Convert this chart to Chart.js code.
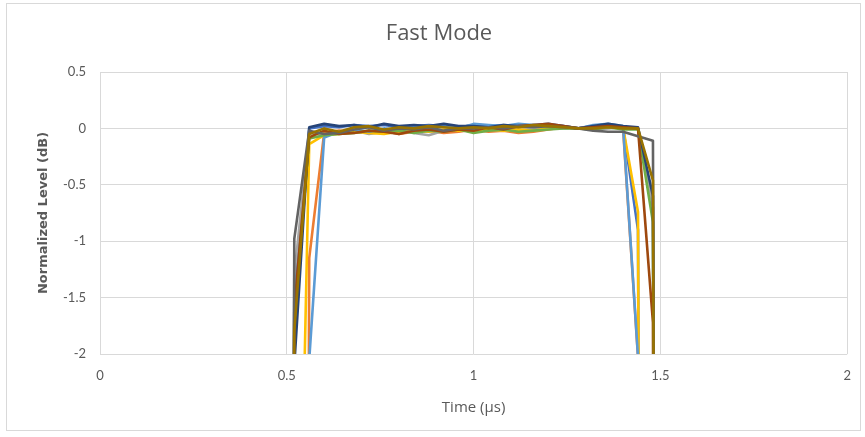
<!DOCTYPE html>
<html>
<head>
<meta charset="utf-8">
<script src="https://cdn.jsdelivr.net/npm/chart.js@4/dist/chart.umd.min.js"></script>
<style>
  html, body { margin: 0; padding: 0; background: #ffffff; }
  canvas { display: block; }
</style>
</head>
<body>
<canvas id="c" width="865" height="437"></canvas>
<script>
// ---- data ----
const timeUs = [0.48, 0.52, 0.56, 0.60, 0.64, 0.68, 0.72, 0.76, 0.80, 0.84, 0.88, 0.92, 0.96, 1.00,
                1.04, 1.08, 1.12, 1.16, 1.20, 1.24, 1.28, 1.32, 1.36, 1.40, 1.44, 1.48, 1.52];

const series1 = [-40, -1.5, 0.00, 0.02, 0.01, 0.03, 0.02, 0.03, 0.01, 0.02, 0.03, 0.02, 0.01, 0.03, 0.02, 0.03, 0.02, 0.03, 0.04, 0.02, 0.00, 0.02, 0.03, 0.01, -0.9, -40, -40];
const series2 = [-40, -40, -1.15, -0.04, -0.02, -0.03, -0.04, -0.02, -0.05, -0.03, -0.02, -0.04, -0.03, -0.01, -0.03, -0.02, -0.04, -0.03, -0.01, 0.01, 0.00, 0.01, 0.02, 0.00, -2.03, -40, -40];
const series3 = [-40, -1.3, -0.04, -0.06, -0.04, -0.02, -0.05, -0.03, -0.02, -0.04, -0.06, -0.02, -0.01, -0.03, -0.01, -0.02, 0.00, -0.01, 0.01, 0.00, 0.00, -0.01, 0.00, 0.01, 0.00, -0.7, -40];
const series4 = [-40, -6.4, -0.14, -0.06, -0.05, -0.03, -0.04, -0.05, -0.03, -0.02, -0.03, -0.01, -0.02, -0.02, -0.01, -0.02, -0.01, -0.02, 0.00, 0.01, 0.00, 0.01, 0.02, 0.01, -0.74, -40, -40];
const series5 = [-40, -40, -2.05, -0.08, -0.03, -0.01, -0.03, 0.00, -0.02, 0.01, -0.01, 0.02, 0.00, 0.04, 0.03, 0.02, 0.04, 0.03, 0.02, 0.01, 0.00, 0.03, 0.04, 0.02, -2.02, -40, -40];
const series6 = [-40, -1.7, -0.09, -0.06, -0.05, -0.04, -0.02, -0.03, -0.02, -0.04, -0.02, -0.03, -0.01, -0.04, -0.02, -0.01, -0.03, -0.02, -0.01, 0.00, 0.00, -0.01, 0.01, -0.01, -0.01, -0.83, -40];
const series7 = [-40, -2.1, 0.01, 0.04, 0.02, 0.03, 0.01, 0.04, 0.02, 0.03, 0.02, 0.04, 0.02, 0.02, 0.01, 0.03, 0.02, 0.02, 0.03, 0.02, 0.00, 0.02, 0.04, 0.02, 0.01, -0.6, -40];
const series8 = [-40, -1.6, -0.08, -0.02, -0.05, -0.04, -0.02, -0.03, -0.05, -0.02, -0.01, -0.03, -0.01, -0.02, 0.01, -0.01, 0.02, 0.03, 0.04, 0.02, 0.00, 0.01, 0.02, 0.01, 0.00, -1.72, -40];
const series9 = [-40, -0.98, -0.02, -0.05, -0.04, -0.01, 0.01, -0.02, 0.00, -0.01, 0.01, -0.02, 0.00, 0.00, 0.01, 0.00, 0.02, 0.01, 0.02, 0.01, 0.00, -0.02, -0.03, -0.03, -0.07, -0.11, -40];
const series10 = [-40, -1.8, -0.05, 0.00, -0.03, 0.01, 0.02, -0.01, 0.01, 0.00, 0.02, 0.01, 0.00, 0.01, 0.00, 0.02, 0.01, 0.03, 0.02, 0.01, 0.00, 0.00, 0.01, 0.00, 0.00, -0.46, -40];

const xTickValues = [0, 0.5, 1, 1.5, 2];
const xTickLabels = ['0', '0.5', '1', '1.5', '2'];
const yTickValues = [0.5, 0, -0.5, -1, -1.5, -2];
const yTickLabels = ['0.5', '0', '-0.5', '-1', '-1.5', '-2'];

const allSeries = [series1, series2, series3, series4, series5, series6, series7, series8, series9, series10];
const colors = ['#4472C4', '#ED7D31', '#A5A5A5', '#FFC000', '#5B9BD5', '#70AD47', '#264478', '#9E480E', '#636363', '#997300'];

const datasets = allSeries.map((vals, i) => ({
  label: 'Series' + (i + 1),
  data: vals.map((v, j) => ({ x: timeUs[j], y: v })),
  borderColor: colors[i],
  backgroundColor: colors[i],
  borderWidth: 2.6,
  pointRadius: 0,
  tension: 0,
  fill: false,
  borderJoinStyle: 'round',
  borderCapStyle: 'round',
  order: allSeries.length - i
}));

const frame = {
  id: 'frame',
  beforeDraw(chart) {
    const ctx = chart.ctx;
    ctx.save();
    ctx.fillStyle = '#ffffff';
    ctx.fillRect(0, 0, chart.width, chart.height);
    ctx.strokeStyle = '#d9d9d9';
    ctx.lineWidth = 1;
    ctx.strokeRect(6.5, 3.5, 854, 427);
    ctx.restore();
  }
};

new Chart(document.getElementById('c'), {
  type: 'line',
  data: { datasets },
  plugins: [frame],
  options: {
    responsive: false,
    animation: false,
    devicePixelRatio: 1,
    layout: { padding: { left: 30, right: 17, top: 0, bottom: 0 } },
    plugins: {
      legend: { display: false },
      tooltip: { enabled: false },
      title: {
        display: true,
        text: 'Fast Mode',
        color: '#595959',
        font: { family: 'Open Sans', size: 22, weight: 'normal', lineHeight: 1.2 },
        padding: { top: 20.8, bottom: 24.8 }
      }
    },
    scales: {
      x: {
        type: 'linear',
        min: 0, max: 2,
        afterFit: s => { s.height = 83; },
        afterBuildTicks: s => { s.ticks = xTickValues.map(v => ({ value: v })); },
        ticks: {
          color: '#595959',
          font: { family: 'Lato', size: 13 },
          padding: 14,
          maxRotation: 0,
          autoSkip: false,
          callback: (v, i) => xTickLabels[i]
        },
        grid: { color: '#d9d9d9', lineWidth: 1, drawTicks: false },
        border: { display: false },
        title: {
          display: true,
          text: 'Time (µs)',
          color: '#595959',
          font: { family: 'Open Sans', size: 15, lineHeight: 1.2 },
          padding: { top: 0, bottom: 20 }
        }
      },
      y: {
        type: 'linear',
        min: -2, max: 0.5,
        afterFit: s => { s.width = 70; },
        afterBuildTicks: s => { s.ticks = yTickValues.map(v => ({ value: v })); },
        ticks: {
          color: '#595959',
          font: { family: 'Lato', size: 13 },
          padding: 14,
          autoSkip: false,
          callback: (v, i) => yTickLabels[i]
        },
        grid: { color: '#d9d9d9', lineWidth: 1, drawTicks: false },
        border: { display: false },
        title: {
          display: true,
          text: 'Normalized Level (dB)',
          color: '#595959',
          font: { family: 'DejaVu Sans', size: 13, weight: 'bold', lineHeight: 1.2 },
          padding: { top: 6.2, bottom: 0 }
        }
      }
    }
  }
});
</script>
</body>
</html>
